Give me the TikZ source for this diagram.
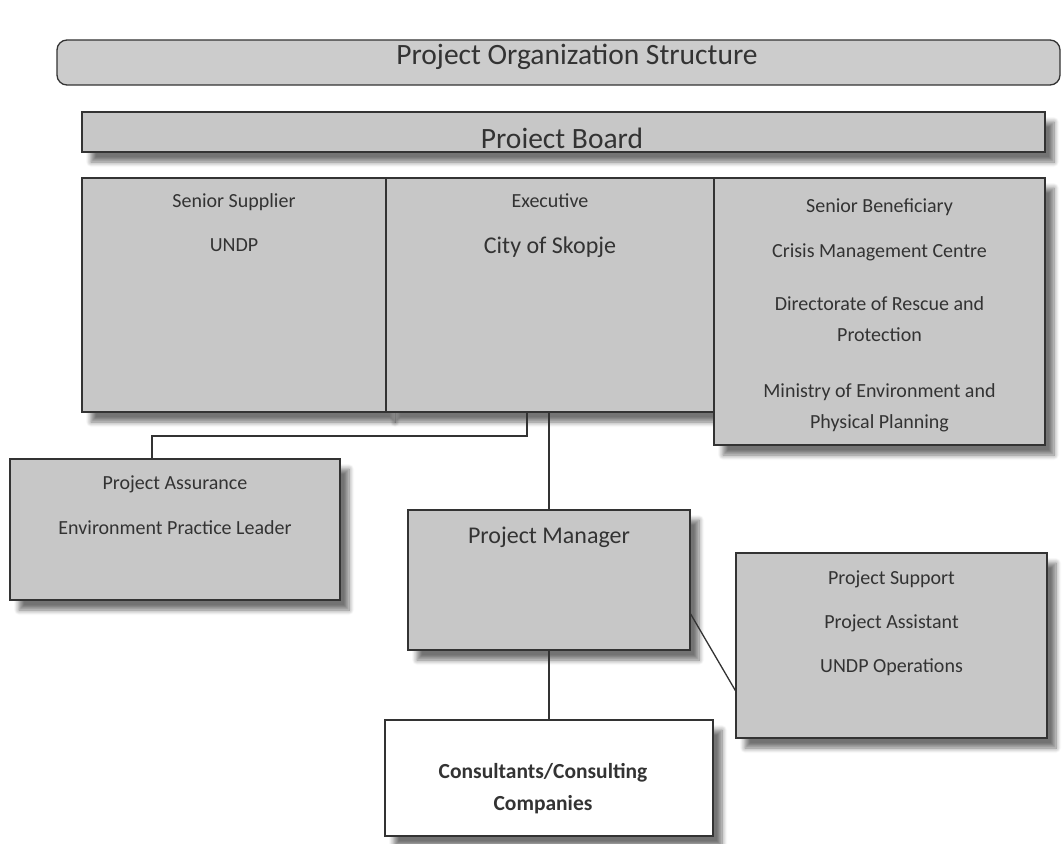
\documentclass[tikz,border=0pt]{standalone}
\usepackage{fontspec}
\setmainfont{Carlito}
\usetikzlibrary{positioning,shadows.blur}

\tikzset{
  box/.style={draw=black!80, line width=1.3pt, fill=black!22, inner sep=0pt,
    blur shadow={shadow xshift=9pt, shadow yshift=-10pt, shadow opacity=55,
      shadow blur radius=5pt, shadow blur steps=8}},
  flat/.style={draw=black!80, line width=1.3pt, fill=black!20, inner sep=0pt},
  txt/.style={text=black!80, inner sep=0pt, align=center,
    font=\fontsize{20}{31}\selectfont},
  big/.style={txt, font=\fontsize{24}{29}\selectfont},
  head/.style={txt, font=\fontsize{29.5}{35}\selectfont},
  link/.style={draw=black!80, line width=1.3pt},
}

\begin{document}
\begin{tikzpicture}[x=1pt, y=-1pt]
  \useasboundingbox (0,0) rectangle (1062,843);

  % heading bar and board
  \node[flat, rounded corners=10pt, minimum width=1003pt, minimum height=45pt] (title) at (558.5,62.5) {};
  \node[head, anchor=base] (titletxt) at (577,64) {Project Organization Structure};
  \node[box, minimum width=963pt, minimum height=40pt] (board) at (563.5,132) {};
  \node[head, anchor=base] (boardtxt) at (562,148) {Proiect Board};

  % the three board roles
  \node[box, minimum width=304pt, minimum height=234pt] (supp) at (234,295) {};
  \node[box, minimum width=328pt, minimum height=234pt] (exec) at (550,295) {};
  \node[box, minimum width=331pt, minimum height=267pt] (bene) at (879.5,311.5) {};
  \node[txt, anchor=north] (supptxt) at ([yshift=-16pt]supp.north) {Senior Supplier\\[13pt]UNDP};
  \node[txt, anchor=north] (exectxt) at ([yshift=-16pt]exec.north)
    {Executive\\[15pt]{\fontsize{24}{29}\selectfont City of Skopje}};
  \node[txt, anchor=north] (benetxt) at ([yshift=-21pt]bene.north)
    {Senior Beneficiary\\[14pt]Crisis Management Centre\\[22pt]Directorate of Rescue and\\Protection\\[25pt]Ministry of Environment and\\Physical Planning};

  % lower level
  \node[box, minimum width=330pt, minimum height=141pt] (assur) at (175,529.5) {};
  \node[txt, anchor=north] (assurtxt) at ([yshift=-17pt]assur.north) {Project Assurance\\[14pt]Environment Practice Leader};
  \node[box, minimum width=282pt, minimum height=140pt] (pm) at (549,580) {};
  \node[big, anchor=north] (pmtxt) at ([yshift=-17pt]pm.north) {Project Manager};
  \node[box, minimum width=311pt, minimum height=185pt] (supt) at (891.5,645.5) {};
  \node[txt, anchor=north] (supttxt) at ([yshift=-18pt]supt.north) {Project Support\\[13pt]Project Assistant\\[13pt]UNDP Operations};
  \node[box, fill=white, minimum width=328pt, minimum height=116pt] (cons) at (549,778) {};
  \node[txt, anchor=north, font=\fontsize{21.5}{32}\selectfont\bfseries] (constxt) at ([xshift=-6pt,yshift=-44pt]cons.north) {Consultants/Consulting\\Companies};

  % reporting lines
  \coordinate (bend) at (152,436);
  \draw[link] ([xshift=-23pt]exec.south) |- (bend) -- (bend |- assur.north);
  \draw[link] (exec.south -| pm.north) -- (pm.north);
  \draw[link] ([yshift=-34pt]pm.east) -- ([yshift=-45pt]supt.west);
  \draw[link] (pm.south) -- (cons.north);
\end{tikzpicture}
\end{document}
